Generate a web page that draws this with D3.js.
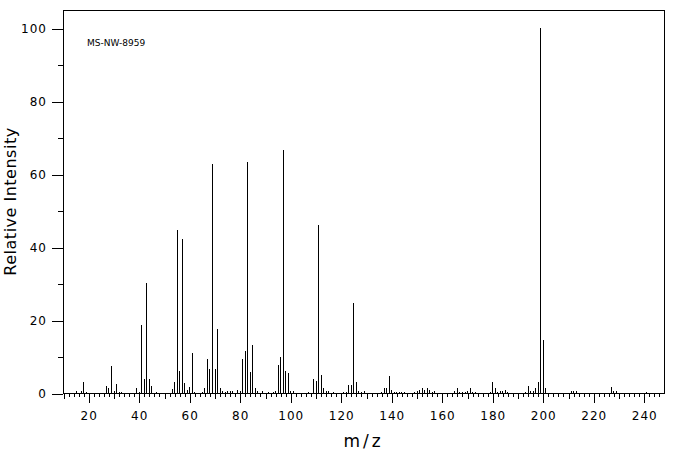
<!DOCTYPE html>
<html>
<head>
<meta charset="utf-8">
<script src="https://cdn.jsdelivr.net/npm/d3@7"></script>
<style>
  body { margin: 0; background: #fff; }
  text { font-family: "DejaVu Sans", sans-serif; fill: #000; }
</style>
</head>
<body>
<div id="chart"></div>
<script>
// m/z values and their relative intensities
const mz = [15, 17, 18, 19, 27, 28, 29, 30, 31, 32, 33, 39, 40, 41, 42, 43, 44, 45, 47,
  53, 54, 55, 56, 57, 58, 59, 60, 61, 62, 65, 66, 67, 68, 69, 70, 71, 72, 73, 74, 75, 76, 77,
  79, 80, 81, 82, 83, 84, 85, 86, 87, 89, 91, 93, 94, 95, 96, 97, 98, 99, 100, 101,
  107, 109, 110, 111, 112, 113, 114, 115, 117, 121, 122, 123, 124, 125, 126, 127, 128, 129,
  136, 137, 138, 139, 140, 141, 142, 143, 144, 145, 149, 150, 151, 152, 153, 154, 155, 156, 157,
  165, 166, 167, 168, 169, 170, 171, 172, 173, 179, 180, 181, 182, 183, 184, 185, 186,
  193, 194, 195, 196, 197, 198, 199, 200, 201, 211, 212, 213, 227, 228, 229, 241];
const intensity = [0.5, 0.5, 2.9, 0.3, 2.0, 1.4, 7.3, 0.5, 2.6, 0.3, 0.3, 1.4, 0.3, 18.6, 3.7, 30.0, 3.7, 2.0, 0.3,
  1.1, 3.1, 44.6, 6.1, 42.2, 2.8, 0.9, 1.6, 11.0, 0.3, 0.3, 1.4, 9.4, 6.7, 62.7, 6.7, 17.5, 1.4, 0.5, 0.3, 0.6, 0.6, 0.6,
  0.9, 0.6, 9.4, 11.6, 63.2, 5.8, 13.2, 1.4, 0.6, 0.6, 0.3, 0.3, 0.6, 7.8, 9.8, 66.6, 5.9, 5.5, 0.6, 0.6,
  0.3, 3.9, 3.4, 46.0, 5.0, 1.4, 0.6, 0.6, 0.3, 0.3, 0.3, 2.3, 2.3, 24.7, 3.1, 0.6, 0.3, 0.6,
  0.3, 1.5, 1.5, 4.6, 0.9, 0.3, 0.3, 0.3, 0.3, 0.3, 0.3, 0.6, 0.9, 1.5, 0.9, 1.5, 0.9, 0.3, 0.6,
  0.6, 1.5, 0.3, 0.3, 0.3, 0.6, 1.5, 0.3, 0.3, 0.3, 2.9, 1.4, 0.3, 0.5, 0.5, 0.9, 0.3,
  0.3, 1.8, 0.5, 0.5, 1.5, 2.9, 100, 14.5, 1.5, 0.5, 0.5, 0.5, 1.7, 0.5, 0.5, 0.3];

const xMajor = [20, 40, 60, 80, 100, 120, 140, 160, 180, 200, 220, 240];
const yMajor = [0, 20, 40, 60, 80, 100];
const yMinor = [10, 30, 50, 70, 90];

const W = 676, H = 455;
const plot = {left: 63, right: 664, top: 10, bottom: 393};

const svg = d3.select("#chart").append("svg")
    .attr("width", W)
    .attr("height", H);

const x = d3.scaleLinear().domain([10, 248]).range([plot.left, plot.right]);
const y = d3.scaleLinear().domain([0, 100]).range([plot.bottom, 28]);

const px = v => Math.round(v) + 0.5;

// ticks every 2 on x: short ones, a bit longer on tens
const xMinor = d3.range(10, 247, 2).filter(v => v % 20 !== 0);

svg.append("g")
    .attr("transform", `translate(0.5,${plot.bottom})`)
    .call(d3.axisBottom(x).tickValues(xMinor.filter(v => v % 10 !== 0)).tickSize(4).tickFormat(""));
svg.append("g")
    .attr("transform", `translate(0.5,${plot.bottom})`)
    .call(d3.axisBottom(x).tickValues(xMinor.filter(v => v % 10 === 0)).tickSize(6).tickFormat(""));
svg.append("g")
    .attr("class", "xmaj")
    .attr("transform", `translate(0.5,${plot.bottom})`)
    .call(d3.axisBottom(x).tickValues(xMajor).tickSize(10).tickPadding(8).tickFormat(d3.format("d")));

svg.append("g")
    .attr("transform", `translate(${plot.left},0.5)`)
    .call(d3.axisLeft(y).tickValues(yMinor).tickSize(5).tickFormat(""));
svg.append("g")
    .attr("class", "ymaj")
    .attr("transform", `translate(${plot.left},0.5)`)
    .call(d3.axisLeft(y).tickValues(yMajor).tickSize(11).tickPadding(5).tickFormat(d3.format("d")));

svg.selectAll(".domain").remove();
svg.selectAll(".tick line").attr("stroke", "#000").attr("shape-rendering", "crispEdges");
svg.selectAll(".xmaj text, .ymaj text")
    .attr("font-size", 12)
    .attr("letter-spacing", 1)
    .attr("font-family", "DejaVu Sans, sans-serif");

// frame
svg.append("rect")
    .attr("x", plot.left + 0.5)
    .attr("y", plot.top + 0.5)
    .attr("width", plot.right - plot.left)
    .attr("height", plot.bottom - plot.top)
    .attr("fill", "none")
    .attr("stroke", "#000")
    .attr("shape-rendering", "crispEdges");

// peaks
const peaks = mz.map((m, i) => ({m: m, v: intensity[i]}));
svg.append("g").selectAll("line")
    .data(peaks)
    .enter()
    .append("line")
    .attr("x1", d => px(x(d.m)))
    .attr("x2", d => px(x(d.m)))
    .attr("y1", px(y(0)))
    .attr("y2", d => Math.round(y(d.v)))
    .attr("stroke", "#000")
    .attr("stroke-width", 1)
    .attr("shape-rendering", "crispEdges");

// labels
svg.append("text")
    .attr("x", 87)
    .attr("y", 46)
    .attr("font-size", 9)
    .text("MS-NW-8959");

svg.append("text")
    .attr("x", (plot.left + plot.right) / 2)
    .attr("y", 447)
    .attr("text-anchor", "middle")
    .attr("font-size", 17)
    .attr("letter-spacing", 3)
    .text("m/z");

svg.append("text")
    .attr("transform", `translate(16,${(plot.top + plot.bottom) / 2}) rotate(-90)`)
    .attr("text-anchor", "middle")
    .attr("font-size", 16)
    .attr("letter-spacing", 0.5)
    .text("Relative Intensity");
</script>
</body>
</html>
